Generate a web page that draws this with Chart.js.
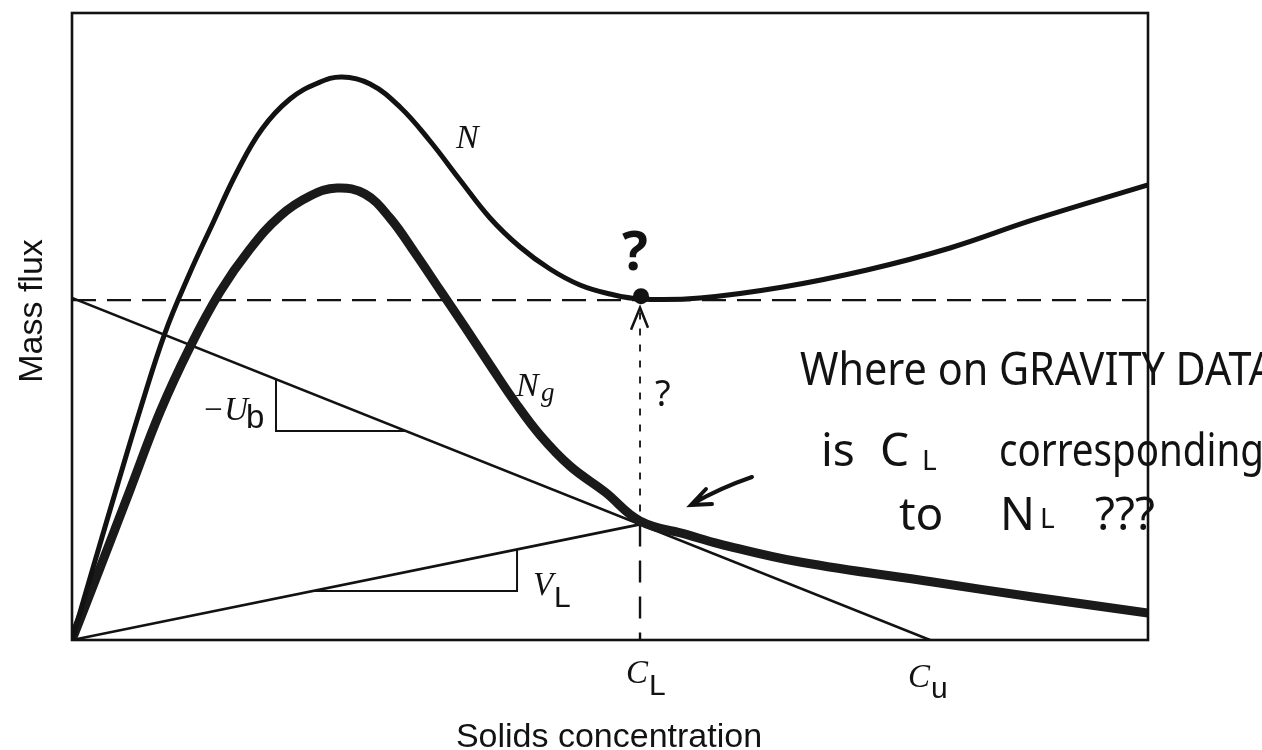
<!DOCTYPE html>
<html>
<head>
<meta charset="utf-8">
<script src="https://cdn.jsdelivr.net/npm/chart.js@4"></script>
<style>
  body { margin: 0; background: #fff; }
  #chart { display: block; }
</style>
</head>
<body>
<canvas id="chart" width="1262" height="750"></canvas>
<script>
// concentration / flux in arbitrary units (0..100 across the frame)
const nConc = [0, 2.14, 4.28, 6.41, 8.64, 10.87, 13.10, 15.33, 17.66, 20.26, 22.86, 25.09, 27.70, 30.48, 33.27, 36.06, 38.85, 41.64, 44.42, 47.21, 50.00, 52.79, 58.36, 66.08, 73.88, 81.60, 89.31, 100];
const nFlux = [0, 12.60, 25.04, 37.16, 48.96, 58.21, 66.51, 74.64, 81.50, 86.28, 88.84, 89.79, 88.68, 85.01, 79.59, 73.37, 67.31, 62.68, 59.17, 56.62, 55.18, 54.39, 54.55, 56.30, 59.01, 62.52, 66.99, 72.57];

const ngConc = [0, 2.60, 5.39, 8.18, 10.97, 13.75, 16.54, 19.33, 22.12, 24.63, 27.23, 29.55, 31.88, 34.20, 36.52, 38.85, 41.17, 43.49, 46.28, 49.54, 52.79, 57.16, 60.22, 67.66, 80.02, 89.31, 100];
const ngFlux = [0, 11.48, 23.92, 36.36, 46.73, 55.50, 62.36, 67.62, 70.81, 72.09, 71.13, 67.30, 61.72, 55.82, 49.92, 43.86, 37.96, 32.70, 27.75, 23.60, 18.98, 16.80, 15.31, 12.44, 9.25, 6.86, 4.31];

const cL = 52.79, cU = 79.74, cLFlux = 18.44, nL = 54.2;

const ubConc = [0, cU];
const ubFlux = [54.55, 0];
const vlConc = [0, cL];
const vlFlux = [0, cLFlux];
const nLConc = [0, 100];
const nLFlux = [nL, nL];
const dropConc = [cL, cL];
const dropFlux = [cLFlux, 0];
const riseFlux = [20.5, 53.0];
const ubTriConc = [18.96, 18.96, 31.0];
const ubTriFlux = [41.58, 33.33, 33.33];
const vlTriConc = [22.36, 41.36, 41.36];
const vlTriFlux = [7.81, 7.81, 14.45];

const pts = (xs, ys) => xs.map((x, i) => ({ x: x, y: ys[i] }));
const ink = '#121212';

function line(data, width, extra) {
  return Object.assign({
    data: data, borderColor: ink, borderWidth: width,
    showLine: true, pointRadius: 0, fill: false, tension: 0
  }, extra || {});
}

const sketch = {
  id: 'sketch',
  afterDatasetsDraw(chart) {
    const c = chart.ctx;
    const a = chart.chartArea;
    const xs = chart.scales.x, ys = chart.scales.y;
    c.save();
    c.fillStyle = ink;
    c.strokeStyle = ink;

    // frame
    c.lineWidth = 2.6;
    c.strokeRect(a.left, a.top, a.right - a.left, a.bottom - a.top);

    // arrowhead on the dotted rise
    const tx = xs.getPixelForValue(cL), ty = ys.getPixelForValue(riseFlux[1]);
    c.lineWidth = 2.5;
    c.beginPath();
    c.moveTo(tx - 9, ty + 22); c.lineTo(tx, ty); c.lineTo(tx + 8, ty + 20);
    c.stroke();

    // big dot at N_L
    c.beginPath();
    c.arc(xs.getPixelForValue(cL) + 1, ys.getPixelForValue(nL) - 4, 8, 0, Math.PI * 2);
    c.fill();

    // hand drawn arrow
    c.lineWidth = 4;
    c.lineCap = 'round';
    c.beginPath();
    c.moveTo(752, 477);
    c.quadraticCurveTo(720, 488, 692, 504);
    c.moveTo(706, 489); c.lineTo(691, 505); c.lineTo(712, 504);
    c.stroke();

    // printed labels
    c.textAlign = 'left';
    c.textBaseline = 'alphabetic';
    const serifI = s => 'italic ' + s + 'px "Liberation Serif"';
    const sans = s => s + 'px "Liberation Sans"';
    c.font = serifI(34); c.fillText('N', 456, 148);
    c.fillText('N', 516, 396);
    c.font = serifI(27); c.fillText('g', 541, 401);
    c.font = serifI(33); c.fillText('\u2212U', 202, 420);
    c.font = sans(33); c.fillText('b', 246, 428);
    c.font = serifI(33); c.fillText('V', 533, 595);
    c.font = sans(30); c.fillText('L', 554, 607);
    c.font = serifI(33); c.fillText('C', 626, 683);
    c.font = sans(30); c.fillText('L', 649, 695);
    c.font = serifI(33); c.fillText('C', 908, 687);
    c.font = sans(30); c.fillText('u', 931, 698);

    // axis titles
    c.font = sans(34);
    c.textAlign = 'center';
    c.fillText('Solids concentration', 609, 747);
    c.save();
    c.translate(42, 311);
    c.rotate(-Math.PI / 2);
    c.fillText('Mass flux', 0, 0);
    c.restore();

    // handwritten notes
    c.textAlign = 'left';
    const hand = s => s + 'px "Noto Sans"';
    c.font = 'bold ' + hand(54); c.fillText('?', 622, 270);
    c.font = hand(36); c.fillText('?', 655, 406);
    c.font = hand(46);
    c.fillText('Where on GRAVITY DATA', 800, 385, 475);
    c.fillText('is', 821, 466);
    c.fillText('C', 880, 466);
    c.fillText('corresponding', 999, 466, 265);
    c.fillText('to', 899, 530);
    c.fillText('N', 1000, 530);
    c.fillText('???', 1095, 530, 100);
    c.font = hand(28);
    c.fillText('L', 922, 470);
    c.fillText('L', 1040, 528);
    c.restore();
  }
};

new Chart(document.getElementById('chart').getContext('2d'), {
  type: 'scatter',
  data: {
    datasets: [
      line(pts(nConc, nFlux), 5, { tension: 0.4 }),
      line(pts(ngConc, ngFlux), 9, { tension: 0.4, borderColor: '#1a1a1a' }),
      line(pts(ubConc, ubFlux), 2.6),
      line(pts(vlConc, vlFlux), 2.6),
      line(pts(nLConc, nLFlux), 2.4, { borderDash: [24, 11] }),
      line(pts(dropConc, dropFlux), 2.4, { borderDash: [22, 14] }),
      line(pts(dropConc, riseFlux), 1.8, { borderDash: [7, 9] }),
      line(pts(ubTriConc, ubTriFlux), 2),
      line(pts(vlTriConc, vlTriFlux), 2)
    ]
  },
  options: {
    responsive: false,
    animation: false,
    layout: { padding: { left: 72, right: 114, top: 13, bottom: 110 } },
    plugins: { legend: { display: false }, tooltip: { enabled: false } },
    scales: {
      x: { type: 'linear', min: 0, max: 100, display: false },
      y: { type: 'linear', min: 0, max: 100, display: false }
    }
  },
  plugins: [sketch]
});
</script>
</body>
</html>
